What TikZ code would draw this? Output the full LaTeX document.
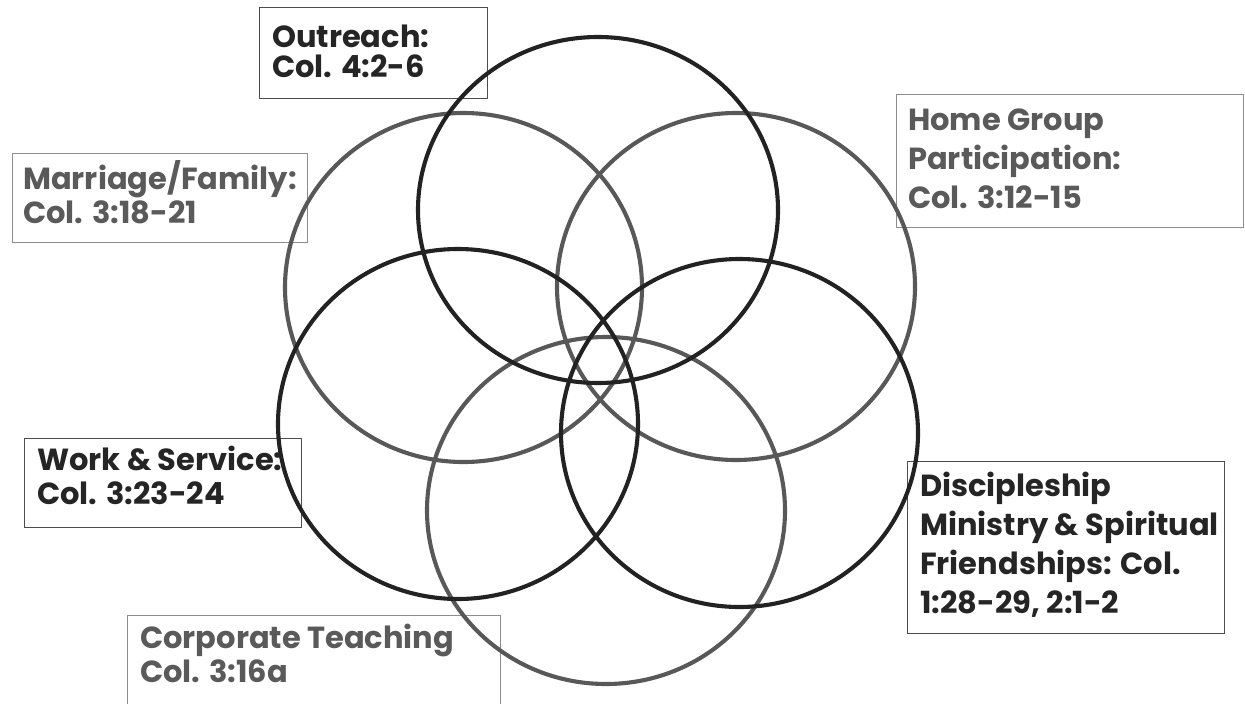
\documentclass[tikz,border=0pt]{standalone}
\usepackage{fontspec}
\setmainfont{Poppins}
\definecolor{ringdark}{HTML}{222222}
\definecolor{ringgray}{HTML}{585858}
\definecolor{txtdark}{HTML}{252525}
\definecolor{txtgray}{HTML}{5A5A5A}
\tikzset{
  ring/.style={line width=4.1pt},
  darkring/.style={ring, draw=ringdark},
  grayring/.style={ring, draw=ringgray},
  labelbox/.style={draw, line width=1.1pt, inner sep=0pt, anchor=north west},
  darkbox/.style={labelbox, draw=black!70},
  graybox/.style={labelbox, draw=black!45},
  lbl/.style={anchor=base west, inner sep=0pt, align=left},
  lsp/.style={font=\bfseries\fontsize{30.5}{#1}\selectfont},
}
\begin{document}
\begin{tikzpicture}[x=1pt,y=-1pt]
\useasboundingbox[fill=white] (0,0) rectangle (1245,704);
% boxes
\node[darkbox, minimum width=228pt, minimum height=91pt] (bout) at (259,7) {};
\node[graybox, minimum width=295pt, minimum height=89pt] (bmar) at (12,153) {};
\node[graybox, minimum width=347pt, minimum height=133pt] (bhome) at (896,94) {};
\node[darkbox, minimum width=277pt, minimum height=89pt] (bwork) at (24,438) {};
\node[darkbox, minimum width=317pt, minimum height=172pt] (bdisc) at (907,461) {};
\node[graybox, minimum width=373pt, minimum height=100pt] (bcorp) at (127,615) {};
% labels (anchored at the baseline of the last line)
\node[lbl, lsp=30, text=txtdark] (tout) at (272,77) {Outreach:\\Col. 4:2-6};
\node[lbl, lsp=34, text=txtgray] (tmar) at (23,223) {Marriage/Family:\\Col. 3:18-21};
\node[lbl, lsp=39, text=txtgray] (thome) at (908,208) {Home Group\\Participation:\\Col. 3:12-15};
\node[lbl, lsp=34, text=txtdark] (twork) at (37,504) {Work \& Service:\\Col. 3:23-24};
\node[lbl, lsp=38.7, text=txtdark] (tdisc) at (920,613) {Discipleship\\Ministry \& Spiritual\\Friendships: Col.\\1:28-29, 2:1-2};
\node[lbl, lsp=34, text=txtgray] (tcorp) at (140,682) {Corporate Teaching\\Col. 3:16a};
% rings
\draw[grayring] (463.5,287.5) ellipse [x radius=178.5pt, y radius=174.5pt];
\draw[grayring] (736,286.5) ellipse [x radius=179pt, y radius=173.5pt];
\draw[grayring] (606,510.5) ellipse [x radius=179pt, y radius=173.5pt];
\draw[darkring] (598,210) ellipse [x radius=180pt, y radius=173pt];
\draw[darkring] (458,424) ellipse [x radius=180pt, y radius=175pt];
\draw[darkring] (739.5,433) ellipse [x radius=178.5pt, y radius=174pt];
\end{tikzpicture}
\end{document}
